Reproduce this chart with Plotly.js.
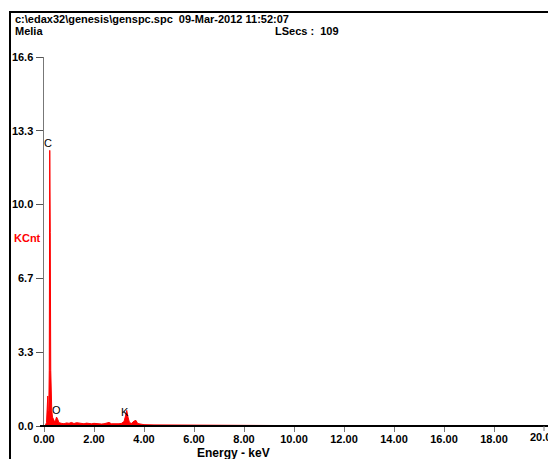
<!DOCTYPE html>
<html>
<head>
<meta charset="utf-8">
<script src="https://cdn.plot.ly/plotly-3.0.1.min.js"></script>
<style>html,body{margin:0;padding:0;background:#fff;}#chart{width:548px;height:459px;}</style>
</head>
<body>
<div id="chart"></div>
<script>
// Spectrum data (keV, KCnt)
const energy = [0.00,0.06,0.10,0.13,0.15,0.17,0.19,0.21,0.23,0.25,0.27,0.29,0.31,0.34,0.38,0.42,0.46,0.50,0.53,0.56,0.60,
  0.70,0.80,0.90,1.00,1.10,1.20,1.30,1.40,1.50,1.60,1.70,1.80,1.90,2.00,2.10,2.20,2.30,2.40,2.50,2.60,2.70,2.80,2.90,3.00,3.10,
  3.20,3.26,3.31,3.36,3.42,3.50,3.60,3.68,3.74,3.80,3.90,4.00,4.40,4.80,5.20,5.60,6.00,6.40,6.80,7.20,7.60,8.00,8.40,8.80,9.20,9.60,10.00,12.00,14.00,16.00,18.00,20.00];
const counts = [0.00,0.05,0.15,0.60,1.35,0.50,0.70,2.50,12.40,8.70,2.50,1.20,0.70,0.40,0.25,0.20,0.25,0.40,0.35,0.20,0.15,
  0.12,0.10,0.14,0.12,0.16,0.11,0.15,0.13,0.12,0.10,0.13,0.11,0.10,0.12,0.10,0.11,0.09,0.10,0.12,0.16,0.10,0.09,0.11,0.10,0.12,
  0.20,0.45,0.70,0.40,0.15,0.12,0.22,0.25,0.12,0.10,0.08,0.06,0.05,0.05,0.04,0.05,0.04,0.05,0.04,0.05,0.04,0.03,0.04,0.03,0.02,0.02,0.01,0.00,0.00,0.00,0.00,0.00];

const yTickVals = [0, 3.32, 6.64, 9.96, 13.28, 16.6];
const yTickText = ['0.0', '3.3', '6.7', '10.0', '13.3', '16.6'];
const xTickVals = [0, 2, 4, 6, 8, 10, 12, 14, 16, 18, 20];
const xTickText = ['0.00','2.00','4.00','6.00','8.00','10.00','12.00','14.00','16.00','18.00','20.00'];

const peakLabels = ['C', 'O', 'K'];
const peakE = [0.14, 0.48, 3.24];
const peakY = [12.72, 0.72, 0.63];

const headerLine1 = 'c:\\edax32\\genesis\\genspc.spc  09-Mar-2012 11:52:07';
const headerName = 'Melia';
const headerLSecs = 'LSecs :  109';

const L = 44, T = 57, B = 33, W = 548, H = 459;
const pw = W - L, ph = H - T - B;
const px = x => (x - L) / pw;
const py = y => (H - B - y) / ph;

const trace = {
  x: energy, y: counts, type: 'scatter', mode: 'lines',
  line: {color: '#ff0000', width: 1}, fill: 'tozeroy', fillcolor: '#ff0000',
  hoverinfo: 'skip', cliponaxis: true
};

const fontBase = {family: 'Liberation Sans, Arial, sans-serif', color: '#000', size: 11};

const annotations = [
  {text: '<b>' + headerLine1 + '</b>', xref: 'paper', yref: 'paper', x: px(13), y: py(19), xanchor: 'left', yanchor: 'middle', showarrow: false, font: fontBase},
  {text: '<b>' + headerName + '</b>', xref: 'paper', yref: 'paper', x: px(13), y: py(31), xanchor: 'left', yanchor: 'middle', showarrow: false, font: fontBase},
  {text: '<b>' + headerLSecs + '</b>', xref: 'paper', yref: 'paper', x: px(273), y: py(31), xanchor: 'left', yanchor: 'middle', showarrow: false, font: fontBase},
  {text: '<b>KCnt</b>', xref: 'paper', yref: 'paper', x: px(12), y: py(238), xanchor: 'left', yanchor: 'middle', showarrow: false, font: Object.assign({}, fontBase, {color: '#ff0000'})},
  {text: '<b>Energy - keV</b>', xref: 'paper', yref: 'paper', x: px(233), y: py(453), xanchor: 'center', yanchor: 'middle', showarrow: false, font: Object.assign({}, fontBase, {size: 12})},
  // last x tick label, cut by the right edge as in the reference
  {text: '<b>' + xTickText[xTickText.length - 1] + '</b>', xref: 'x', yref: 'paper', x: xTickVals[xTickVals.length - 1], y: py(437), xanchor: 'center', yanchor: 'middle', showarrow: false, font: fontBase}
];
for (let i = 0; i < peakLabels.length; i++) {
  annotations.push({text: peakLabels[i], x: peakE[i], y: peakY[i], xref: 'x', yref: 'y', xanchor: 'center', yanchor: 'middle', showarrow: false, font: fontBase});
}

const shapes = [
  {type: 'line', xref: 'paper', yref: 'paper', x0: px(9), x1: px(560), y0: py(12), y1: py(12), line: {color: '#000', width: 2}},
  {type: 'line', xref: 'paper', yref: 'paper', x0: px(10), x1: px(10), y0: py(12), y1: py(470), line: {color: '#000', width: 2}},
  {type: 'line', xref: 'paper', yref: 'paper', x0: px(40), x1: px(560), y0: 0, y1: 0, line: {color: '#000', width: 2}},
  {type: 'line', xref: 'x', yref: 'paper', x0: 20, x1: 20, y0: 0, y1: -5 / ph, line: {color: '#777', width: 1}}
];

const layout = {
  width: W, height: H,
  margin: {l: L, r: 0, t: T, b: B, pad: 0},
  paper_bgcolor: '#fff', plot_bgcolor: '#fff',
  showlegend: false,
  font: fontBase,
  xaxis: {
    range: [0, pw / 25], tickvals: xTickVals.slice(0, -1), ticktext: xTickText.slice(0, -1).map(t => '<b>' + t + '</b>'),
    ticks: 'outside', ticklen: 5, tickcolor: '#777', tickwidth: 1, ticklabelstandoff: -2,
    showline: false, showgrid: false, zeroline: false, fixedrange: true,
    tickfont: fontBase
  },
  yaxis: {
    range: [0, 16.6], tickvals: yTickVals, ticktext: yTickText.map(t => '<b>' + t + '</b>'),
    ticks: 'outside', ticklen: 7, tickcolor: '#555', tickwidth: 1,
    showline: true, linecolor: '#777', linewidth: 1.5,
    showgrid: false, zeroline: false, fixedrange: true,
    tickfont: fontBase
  },
  annotations: annotations,
  shapes: shapes
};

Plotly.newPlot('chart', [trace], layout, {displayModeBar: false, staticPlot: true});
</script>
</body>
</html>
